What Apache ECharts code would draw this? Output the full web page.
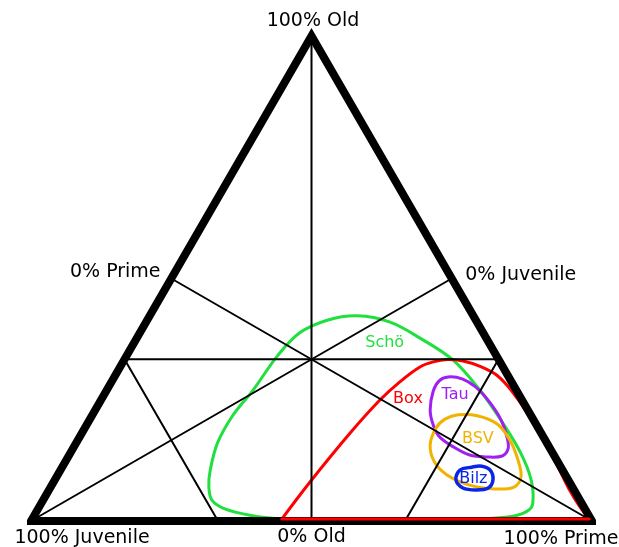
<!DOCTYPE html>
<html><head><meta charset="utf-8">
<script src="https://cdn.jsdelivr.net/npm/echarts@6/dist/echarts.min.js"></script>
<style>html,body{margin:0;padding:0;background:#fff}#c{width:619px;height:547px}</style>
</head><body><div id="c"></div>
<script>
// Ternary data: every point is [Prime %, Old %] (Juvenile = 100 - Prime - Old)
const cornerLabels = ['100% Old', '0% Prime', '0% Juvenile', '100% Juvenile', '0% Old', '100% Prime'];
const cornerLabelAt = [[0, 100], [0, 50], [50, 50], [0, 0], [50, 0], [100, 0]];
const frame = [[0, 0], [100, 0], [0, 100]];
const guides = [
  [[0, 100], [50, 0]],
  [[0, 0], [50, 50]],
  [[100, 0], [0, 50]],
  [[0, 100 / 3], [200 / 3, 100 / 3]],
  [[0, 100 / 3], [100 / 3, 0]],
  [[200 / 3, 100 / 3], [200 / 3, 0]]
];
const groupNames = ['Schö', 'Box', 'Tau', 'BSV', 'Bilz'];
const scho = [[53.3,-0.1],[65.8,-0.1],[78.1,0.3],[85.4,1.0],[87.5,2.1],[87.6,3.7],[84.9,8.5],[80.3,14.0],[74.0,20.2],[66.5,27.0],[58.6,33.2],[50.5,37.7],[43.5,41.0],[37.0,42.3],[32.1,41.4],[28.5,38.8],[26.9,34.0],[26.1,27.0],[25.1,21.9],[25.2,16.1],[26.7,10.5],[28.2,7.0],[30.1,4.3],[33.3,2.5],[38.4,1.2],[44.5,0.4]];
const box = [[44.5,0.4],[45.7,8.0],[47.8,18.1],[49.7,24.9],[51.4,28.7],[53.5,31.8],[55.3,32.8],[57.5,33.3],[60.5,33.0],[64.1,31.9],[67.6,30.3],[71.1,27.8],[74.9,24.5],[79.3,20.4],[84.0,15.7],[88.4,11.1],[92.6,6.6],[96.4,2.9],[99.3,0.4]];
const tau = [[69.5,24.5],[73.4,20.8],[76.2,17.3],[77.6,14.9],[77.3,13.4],[74.7,13.2],[71.4,13.6],[67.6,15.3],[64.2,17.3],[61.8,19.8],[59.7,22.9],[58.3,26.8],[58.3,28.9],[59.5,29.7],[62.2,29.3],[65.5,27.6]];
const bsv = [[77.0,16.7],[80.5,12.6],[82.8,9.1],[82.6,7.0],[79.4,6.6],[74.5,7.4],[69.4,9.5],[65.8,12.2],[63.3,15.7],[62.6,19.2],[63.3,21.0],[65.2,21.9],[68.7,21.7],[73.1,20.0]];
const bilz = [[73.0,11.1],[74.7,11.3],[76.6,10.5],[78.1,8.5],[78.1,6.8],[76.1,6.4],[73.6,6.8],[71.5,8.5],[71.2,10.5]];
const groupLabelAt = [[44.7,36.7],[54.6,25.2],[62.6,26.0],[71.2,16.9],[74.5,8.7]];

// styles
const colors = ['#1fe03c', '#ff0000', '#a020f0', '#f0b400', '#0a24e8'];
const cornerOffsets = [[1.5,-15],[-56,-6.5],[69,-3],[51,17],[0,16],[-31,18]];
const FONT = 'DejaVu Sans';
const SMOOTH = 0.35;

function xy(p) { return [p[0] + p[1] / 2, p[1]]; }
function lineSeries(data, color, width) {
  return { type: 'line', data: data.map(xy), showSymbol: false, symbol: 'none',
    clip: false, silent: true, animation: false,
    lineStyle: { color: color, width: width, join: 'round', cap: 'round' } };
}
function curveSeries(points, loop, color, width) {
  return { type: 'custom', coordinateSystem: 'cartesian2d', silent: true, animation: false, clip: false,
    data: [xy(points[0])],
    renderItem: function (params, api) {
      const pts = points.map(p => api.coord(xy(p)));
      return { type: loop ? 'polygon' : 'polyline',
        shape: { points: pts, smooth: SMOOTH },
        style: { fill: 'none', stroke: color, lineWidth: width, lineJoin: 'round', lineCap: 'round' } };
    } };
}

const series = [];
guides.forEach(g => series.push(lineSeries(g, '#000', 2)));
const fr = lineSeries(frame.concat([frame[0], frame[1]]), '#000', 8);
fr.lineStyle.join = 'miter'; fr.lineStyle.cap = 'butt'; fr.lineStyle.miterLimit = 10;
series.push(fr);
series.push(curveSeries(scho, true, colors[0], 3));
series.push(curveSeries(box, false, colors[1], 3));
series.push(lineSeries([box[box.length - 1], box[0]], colors[1], 3));
series.push(curveSeries(tau, true, colors[2], 3));
series.push(curveSeries(bsv, true, colors[3], 3));
series.push(curveSeries(bilz, true, colors[4], 3.5));
series.push({ type: 'scatter', symbolSize: 0, clip: false, silent: true, animation: false,
  itemStyle: { opacity: 1 },
  label: { show: true, position: 'inside', fontSize: 16, fontFamily: FONT,
    formatter: p => groupNames[p.dataIndex] },
  data: groupLabelAt.map((p, i) => ({ value: xy(p), label: { color: colors[i] } })) });
series.push({ type: 'scatter', symbolSize: 0, clip: false, silent: true, animation: false,
  itemStyle: { opacity: 1 },
  label: { show: true, position: 'inside', fontSize: 19, fontFamily: FONT, color: '#000',
    formatter: p => cornerLabels[p.dataIndex] },
  data: cornerLabelAt.map((p, i) => ({ value: xy(p), label: { offset: cornerOffsets[i] } })) });

const chart = echarts.init(document.getElementById('c'), null, { renderer: 'canvas' });
chart.setOption({
  animation: false,
  backgroundColor: '#fff',
  grid: { left: 31, right: 27, top: 36, bottom: 26 },
  xAxis: { type: 'value', min: 0, max: 100, show: false },
  yAxis: { type: 'value', min: 0, max: 100, show: false },
  series: series
});
</script></body></html>
